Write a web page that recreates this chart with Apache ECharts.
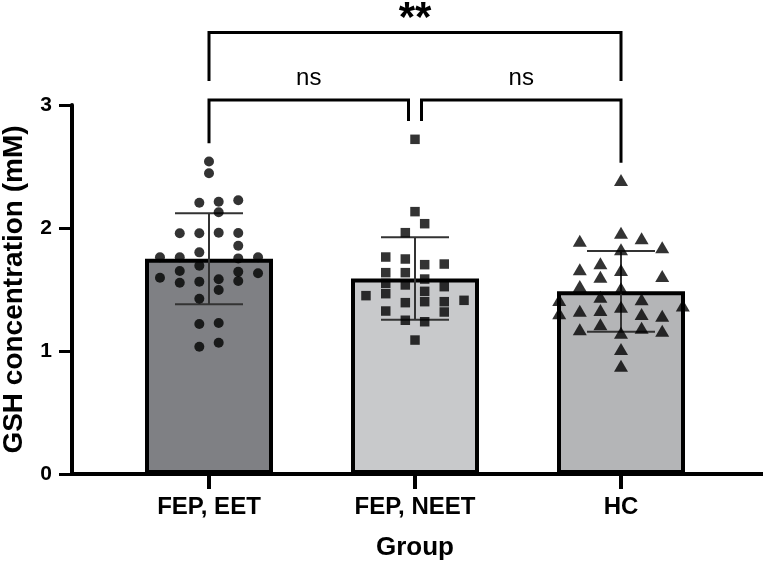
<!DOCTYPE html>
<html><head><meta charset="utf-8">
<script src="https://cdn.jsdelivr.net/npm/echarts@6/dist/echarts.min.js"></script>
<style>html,body{margin:0;padding:0;background:#fff}#c{width:763px;height:564px}</style>
</head><body><div id="c"></div>
<script>
// ---- data ----
const categories = ['FEP, EET', 'FEP, NEET', 'HC'];
const means = [1.75, 1.59, 1.485];
const sds = [0.37, 0.335, 0.328];
const yTicks = [0, 1, 2, 3];
const barColors = ['#7f8084', '#c8c9cb', '#b4b5b7'];
// individual subjects: [horizontal jitter within its group (fraction of group width), GSH (mM)]
const eetPoints = [
  [0, 2.54], [0, 2.445], [-0.047, 2.206], [0.047, 2.214], [0.142, 2.225], [0.047, 2.128],
  [-0.142, 1.957], [-0.047, 1.957], [0.047, 1.962], [0.142, 1.959], [0.142, 1.856],
  [-0.047, 1.802], [-0.238, 1.762], [-0.142, 1.762], [0.142, 1.753], [0.238, 1.762],
  [-0.047, 1.694], [-0.142, 1.650], [0.142, 1.645], [0.238, 1.632], [-0.238, 1.596],
  [-0.142, 1.555], [-0.047, 1.564], [0.047, 1.583], [0.142, 1.569], [0.047, 1.496],
  [-0.047, 1.425], [-0.047, 1.22], [0.047, 1.228], [-0.047, 1.035], [0.047, 1.067]
];
const neetPoints = [
  [0, 2.721], [0, 2.133], [0.047, 2.035], [-0.047, 1.962], [-0.142, 1.764], [-0.047, 1.748],
  [0.047, 1.702], [0.142, 1.707], [-0.142, 1.637], [-0.047, 1.637], [0.047, 1.585],
  [-0.142, 1.550], [-0.047, 1.537], [0.142, 1.523], [-0.238, 1.450], [-0.142, 1.466],
  [0.047, 1.485], [0.047, 1.401], [0.142, 1.401], [0.238, 1.412], [-0.047, 1.393],
  [-0.142, 1.325], [0.142, 1.317], [-0.047, 1.25], [0.047, 1.238], [0, 1.089]
];
const hcPoints = [
  [0, 2.390], [0, 1.962], [0.1, 1.916], [-0.2, 1.897], [0.2, 1.843], [0, 1.827],
  [-0.1, 1.713], [-0.2, 1.664], [0, 1.659], [-0.1, 1.604], [0.2, 1.610], [-0.2, 1.528],
  [0, 1.510], [-0.1, 1.442], [0.1, 1.420], [-0.3, 1.415], [0.3, 1.369], [0, 1.360],
  [-0.1, 1.333], [-0.2, 1.328], [-0.3, 1.306], [0.1, 1.301], [0.2, 1.287], [-0.1, 1.217],
  [-0.2, 1.176], [0.1, 1.190], [0.2, 1.165], [0, 1.149], [0, 1.016], [0, 0.881]
];
// significance comparisons: [group a, group b, label]
const comparisons = [[0, 1, 'ns'], [1, 2, 'ns'], [0, 2, '**']];
const bracketTop = [3.04, 3.04, 3.59];
const bracketLegEnds = [[2.69, 2.87], [2.87, 2.53], [3.195, 3.195]];

// ---- chart ----
const FONT = 'Liberation Sans, Arial, Helvetica, sans-serif';
const chart = echarts.init(document.getElementById('c'), null, {renderer: 'canvas'});

function groupPoints(pts, gi) { return pts.map(p => [gi + p[0], p[1]]); }

const bracketData = comparisons.map((c, k) => [c[0], c[1], bracketTop[k], bracketLegEnds[k][0], bracketLegEnds[k][1], k]);

const option = {
  backgroundColor: '#fff',
  animation: false,
  grid: [
    {left: 72, right: 0, top: 105, bottom: 90, containLabel: false, outerBoundsMode: 'none'},
    {left: 106, right: 39, top: 105, bottom: 90, containLabel: false, outerBoundsMode: 'none'}
  ],
  xAxis: [
    {gridIndex: 0, type: 'value', min: 0, max: 1,
      axisLine: {show: true, lineStyle: {color: '#000', width: 4}},
      axisTick: {show: false}, axisLabel: {show: false}, splitLine: {show: false}},
    {gridIndex: 1, type: 'category', data: categories, position: 'bottom',
      axisLine: {show: true, lineStyle: {color: '#000', width: 4}},
      axisTick: {show: true, alignWithLabel: true, length: 15, lineStyle: {color: '#000', width: 4}},
      axisLabel: {color: '#000', fontFamily: FONT, fontWeight: 'bold', fontSize: 24, margin: 21},
      name: 'Group', nameLocation: 'middle', nameGap: 61,
      nameTextStyle: {color: '#000', fontFamily: FONT, fontWeight: 'bold', fontSize: 26},
      splitLine: {show: false}},
    {gridIndex: 1, type: 'value', position: 'top', min: -0.5, max: 2.5, show: false}
  ],
  yAxis: [
    {gridIndex: 0, type: 'value', min: yTicks[0], max: yTicks[yTicks.length - 1], interval: 1,
      axisLine: {show: true, lineStyle: {color: '#000', width: 4}},
      axisTick: {show: true, inside: false, length: 13, lineStyle: {color: '#000', width: 3}},
      axisLabel: {color: '#000', fontFamily: FONT, fontWeight: 'bold', fontSize: 21, margin: 20},
      splitLine: {show: false},
      name: 'GSH concentration (mM)', nameLocation: 'middle', nameGap: 44,
      nameTextStyle: {color: '#000', fontFamily: FONT, fontWeight: 'bold', fontSize: 28}},
    {gridIndex: 1, type: 'value', min: 0, max: 3, show: false}
  ],
  series: [
    {type: 'bar', xAxisIndex: 1, yAxisIndex: 1, barWidth: 128, z: 2,
      data: means.map((m, i) => ({value: m, itemStyle: {color: barColors[i]}})),
      itemStyle: {borderColor: '#000', borderWidth: 4}},
    // error bars (plus the category tick mark under each group)
    {type: 'custom', xAxisIndex: 2, yAxisIndex: 1, z: 3, clip: false,
      data: means.map((m, i) => [i, m, sds[i]]),
      renderItem: function (params, api) {
        const i = api.value(0), m = api.value(1), s = api.value(2);
        const top = api.coord([i, m + s]), bot = api.coord([i, m - s]);
        const base = api.coord([i, 0]);
        const half = 34;
        const st = {stroke: '#333', lineWidth: 2};
        return {type: 'group', children: [
          {type: 'line', shape: {x1: top[0], y1: top[1], x2: bot[0], y2: bot[1]}, style: st},
          {type: 'line', shape: {x1: top[0] - half, y1: top[1], x2: top[0] + half, y2: top[1]}, style: st},
          {type: 'line', shape: {x1: bot[0] - half, y1: bot[1], x2: bot[0] + half, y2: bot[1]}, style: st},
          {type: 'rect', shape: {x: base[0] - 2, y: base[1], width: 4, height: 15},
            style: {fill: '#000'}}
        ]};
      }},
    {type: 'scatter', xAxisIndex: 2, yAxisIndex: 1, z: 4, symbol: 'circle', symbolSize: 10,
      itemStyle: {color: '#000'}, data: groupPoints(eetPoints, 0)},
    {type: 'scatter', xAxisIndex: 2, yAxisIndex: 1, z: 4, symbol: 'rect', symbolSize: 9.5,
      itemStyle: {color: '#000'}, data: groupPoints(neetPoints, 1)},
    {type: 'scatter', xAxisIndex: 2, yAxisIndex: 1, z: 4, symbol: 'triangle', symbolSize: [14, 12],
      itemStyle: {color: '#000'}, data: groupPoints(hcPoints, 2)},
    {type: 'custom', xAxisIndex: 2, yAxisIndex: 1, z: 5, clip: false, silent: true,
      data: bracketData,
      renderItem: function (params, api) {
        const k = api.value(5);
        const a = api.value(0), b = api.value(1), t = api.value(2);
        const la = api.value(3), lb = api.value(4);
        let xa = api.coord([a, t])[0], xb = api.coord([b, t])[0];
        // inset legs that share a group with another bracket at the same level
        const gap = 6.5;
        comparisons.forEach((c, j) => {
          if (j === k || bracketTop[j] !== t) return;
          if (c[0] === b || c[1] === b) xb -= gap;
          if (c[0] === a || c[1] === a) xa += gap;
        });
        const yT = api.coord([a, t])[1], yA = api.coord([a, la])[1], yB = api.coord([b, lb])[1];
        const label = comparisons[k][2];
        const isStar = label.indexOf('*') >= 0;
        return {type: 'group', children: [
          {type: 'polyline', shape: {points: [[xa, yA], [xa, yT], [xb, yT], [xb, yB]]},
            style: {stroke: '#000', lineWidth: 3, fill: null}},
          {type: 'text', x: (xa + xb) / 2, y: yT - (isStar ? 13 : 22),
            style: {text: label, fill: '#000', font: (isStar ? 'bold 42px ' : '24px ') + FONT,
              textAlign: 'center', textVerticalAlign: 'middle', verticalAlign: 'middle', align: 'center'}}
        ]};
      }}
  ]
};
chart.setOption(option);

// fallback: category tick marks placed through the chart's own scale
const tickGraphics = categories.map((c, i) => {
  const p = chart.convertToPixel({xAxisIndex: 2, yAxisIndex: 1}, [i, 0]);
  return {type: 'rect', z: 200, silent: true,
    shape: {x: p[0] - 2, y: p[1], width: 4, height: 15}, style: {fill: '#000'}};
});
chart.setOption({graphic: tickGraphics});
</script>
</body></html>
